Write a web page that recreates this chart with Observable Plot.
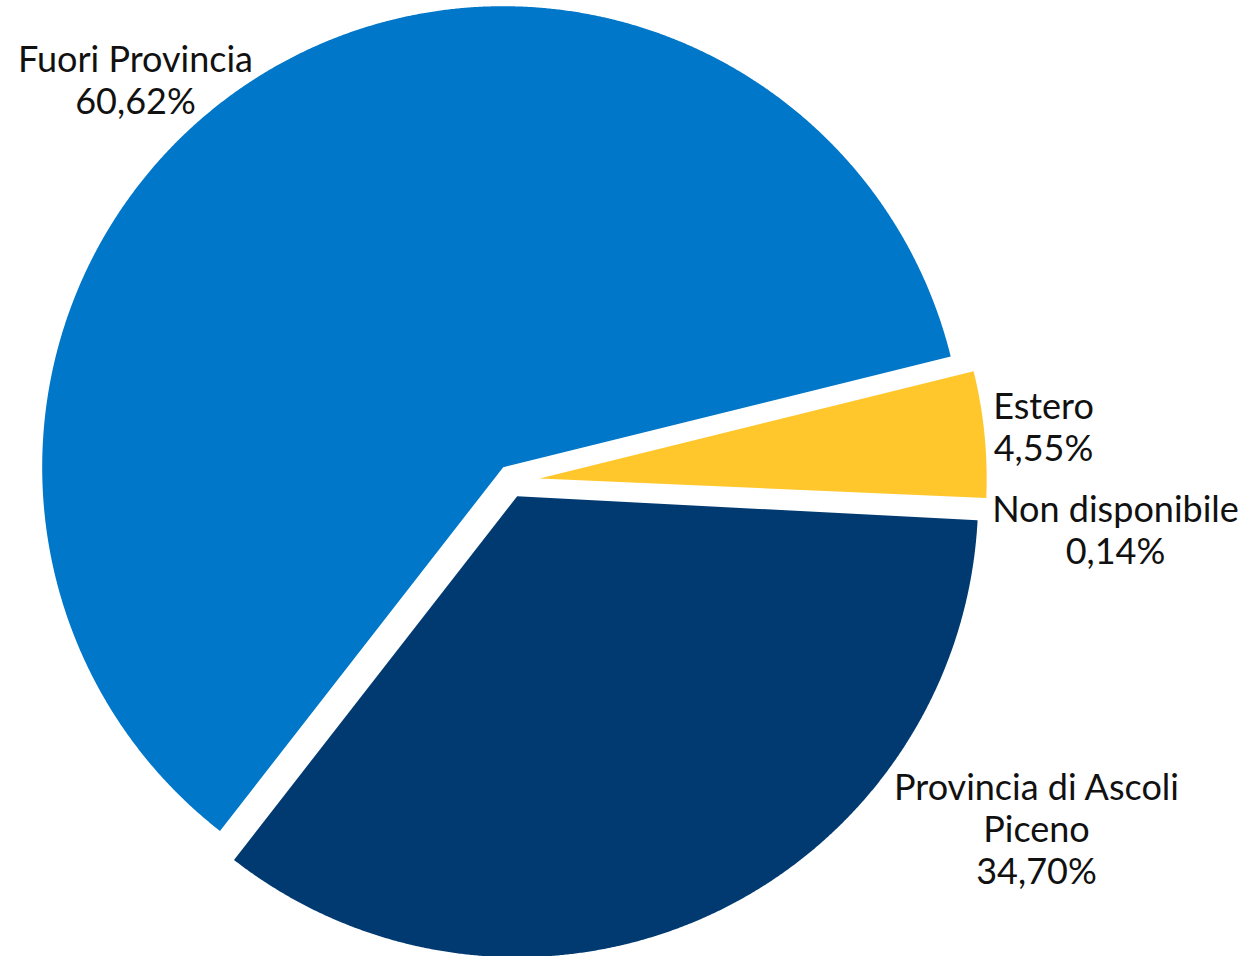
<!DOCTYPE html>
<html><head><meta charset="utf-8">
<script src="https://cdn.jsdelivr.net/npm/d3@7"></script>
<script src="https://cdn.jsdelivr.net/npm/@observablehq/plot@0.6"></script>
<style>body{margin:0;background:#fff}#chart svg{display:block}</style>
</head><body><div id="chart"></div>
<script>
// ---- data ----
const categories = ["Provincia di Ascoli Piceno", "Fuori Provincia", "Estero", "Non disponibile"];
const values = [34.70, 60.62, 4.55, 0.14];
const labelLines = ["Provincia di Ascoli\nPiceno", "Fuori Provincia", "Estero", "Non disponibile"];
const colors = ["#003A70", "#0077C8", "#FFC72C", "none"];

// ---- layout ----
const W = 1248, H = 956;
const center = [505, 471], R = 461;
const startDeg = 93;
const explode = [[11.7, 24.7], [-2.3, -4.3], [34, 7], [36, 9]];
const radiusScale = [1, 1, 0.97, 0.97];
const labelPos = [[1036, 883], [135, 113], [1043, 460], [1115, 563]];

const fmt = v => v.toFixed(2).replace(".", ",") + "%";

const a0 = startDeg * Math.PI / 180;
const arcs = d3.pie().sort(null).startAngle(a0).endAngle(a0 + 2 * Math.PI)(values);

const pts = [];
arcs.forEach((a, i) => {
  const cx = center[0] + explode[i][0], cy = center[1] + explode[i][1];
  const r = R * radiusScale[i];
  const n = Math.max(2, Math.ceil((a.endAngle - a.startAngle) / (0.2 * Math.PI / 180)) + 1);
  pts.push({k: i, x: cx, y: cy});
  for (let j = 0; j < n; j++) {
    const t = a.startAngle + (a.endAngle - a.startAngle) * j / (n - 1);
    pts.push({k: i, x: cx + r * Math.sin(t), y: cy - r * Math.cos(t)});
  }
  pts.push({k: i, x: cx, y: cy});
});

const labels = categories.map((c, i) => ({
  text: labelLines[i] + "\n" + fmt(values[i]),
  x: labelPos[i][0], y: labelPos[i][1]
}));

const chart = Plot.plot({
  width: W, height: H, margin: 0,
  x: {domain: [0, W], range: [0, W], axis: null},
  y: {domain: [0, H], range: [0, H], axis: null},
  color: {type: "identity"},
  style: {fontFamily: "Lato", background: "#fff"},
  marks: [
    Plot.line(pts, {x: "x", y: "y", z: "k", fill: d => colors[d.k], stroke: "none", curve: "linear"}),
    Plot.text(labels, {x: "x", y: "y", text: "text", fontSize: 36, fontWeight: 400, lineHeight: 1.155,
      lineAnchor: "bottom", textAnchor: "middle", fill: "#111"})
  ]
});
document.getElementById("chart").appendChild(chart);
</script>
</body></html>
